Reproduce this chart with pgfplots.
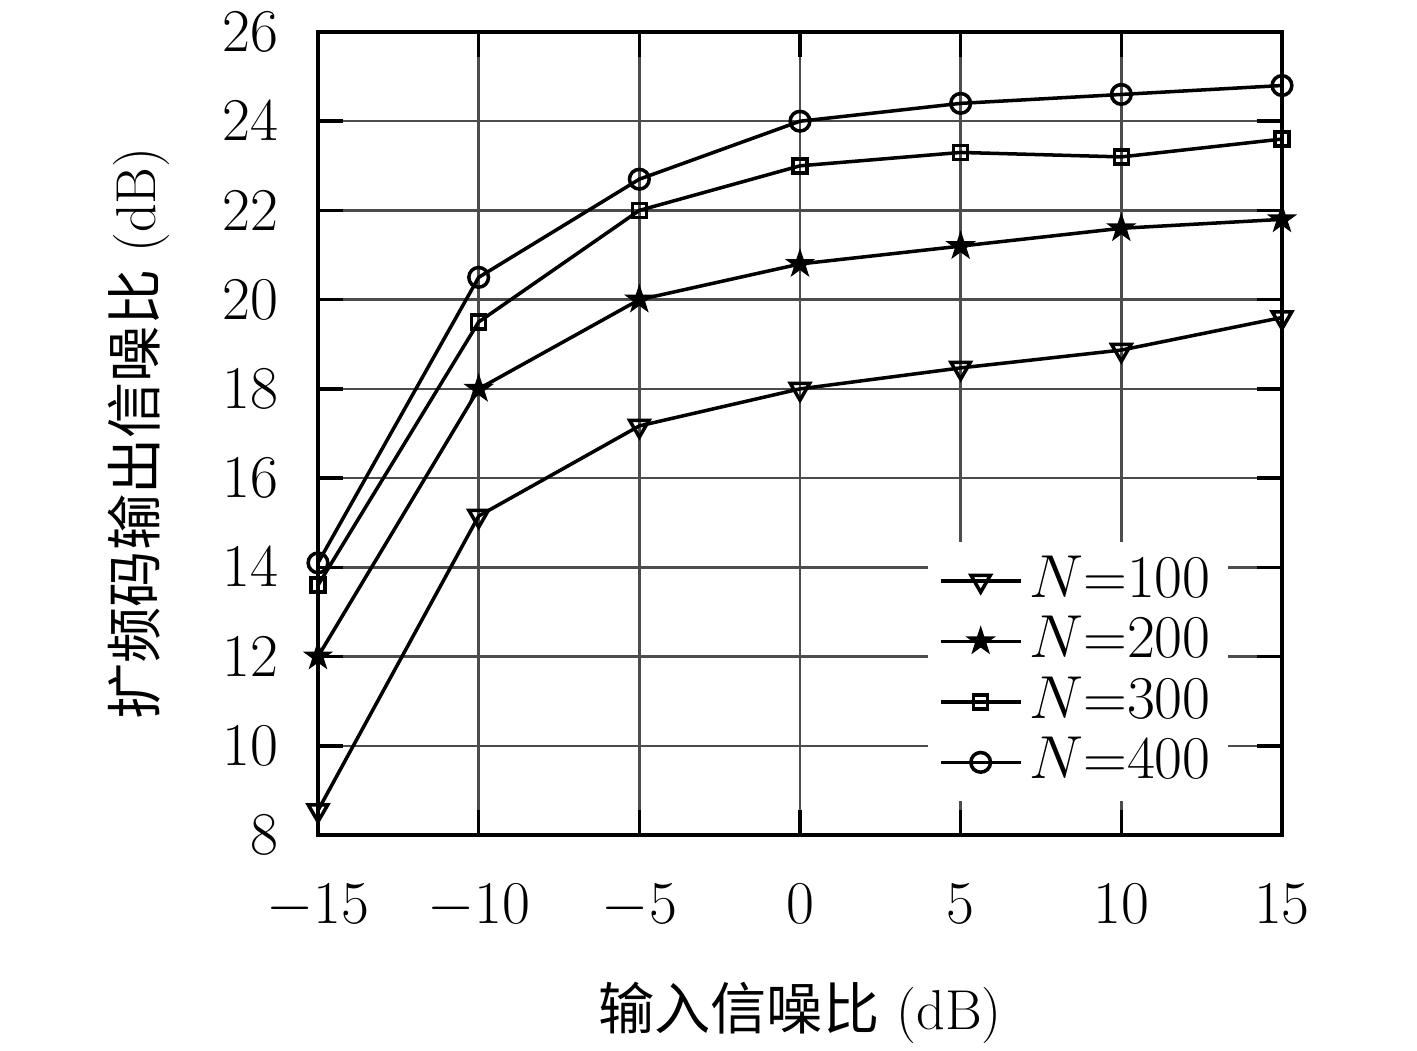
\documentclass[border=0pt]{standalone}
\usepackage{fontspec}
\usepackage{pgfplots}
\pgfplotsset{compat=1.18}
\newfontfamily\cjk{Noto Sans CJK SC}
% filled five-pointed star
\pgfdeclareplotmark{fstar}{%
  \pgfpathmoveto{\pgfqpointpolar{90}{1.3\pgfplotmarksize}}%
  \pgfpathlineto{\pgfqpointpolar{126}{0.5\pgfplotmarksize}}%
  \pgfpathlineto{\pgfqpointpolar{162}{1.3\pgfplotmarksize}}%
  \pgfpathlineto{\pgfqpointpolar{198}{0.5\pgfplotmarksize}}%
  \pgfpathlineto{\pgfqpointpolar{234}{1.3\pgfplotmarksize}}%
  \pgfpathlineto{\pgfqpointpolar{270}{0.5\pgfplotmarksize}}%
  \pgfpathlineto{\pgfqpointpolar{306}{1.3\pgfplotmarksize}}%
  \pgfpathlineto{\pgfqpointpolar{342}{0.5\pgfplotmarksize}}%
  \pgfpathlineto{\pgfqpointpolar{18}{1.3\pgfplotmarksize}}%
  \pgfpathlineto{\pgfqpointpolar{54}{0.5\pgfplotmarksize}}%
  \pgfpathclose
  \pgfusepathqfillstroke
}
\begin{document}
\fontsize{16}{19}\selectfont
\begin{tikzpicture}
\begin{axis}[
    scale only axis,
    width=9.64cm, height=8.03cm,
    xmin=-15, xmax=15, ymin=8, ymax=26,
    xtick={-15,-10,...,15}, ytick={8,10,...,26},
    grid=major,
    grid style={line width=0.7pt, black!70},
    axis line style={line width=1.2pt},
    tick style={line width=1pt, black},
    major tick length=2.5mm,
    tick align=inside,
    xticklabel style={yshift=-3mm},
    yticklabel style={xshift=-2mm},
    xlabel={{\cjk 输入信噪比} (dB)},
    ylabel={{\cjk 扩频码输出信噪比} (dB)},
    xlabel style={yshift=-1.5mm},
    ylabel style={yshift=1.5mm},
    legend style={at={(0.945,0.041)}, anchor=south east, draw=none, fill=white,
        row sep=-1pt, font=\fontsize{16}{19}\selectfont},
    legend cell align=left,
    legend image code/.code={%
        \draw[mark repeat=2,mark phase=2] plot coordinates {(0cm,0cm) (0.4cm,0cm) (0.8cm,0cm)};},
    every axis plot/.append style={line width=1pt, black},
]
\addplot[mark=triangle, mark options={rotate=180, fill=white, scale=1.6}] coordinates {
    (-15,8.55) (-10,15.15) (-5,17.17) (0,18.0) (5,18.47) (10,18.87) (15,19.6)
};
\addplot[mark=fstar, mark options={fill=black, scale=1.5, line width=0.4pt}] coordinates {
    (-15,12.0) (-10,18.0) (-5,20.0) (0,20.8) (5,21.2) (10,21.6) (15,21.8)
};
\addplot[mark=square, mark options={fill=white, scale=1.0}] coordinates {
    (-15,13.6) (-10,19.5) (-5,22.0) (0,23.0) (5,23.3) (10,23.2) (15,23.6)
};
\addplot[mark=o, mark options={fill=white, scale=1.4}] coordinates {
    (-15,14.1) (-10,20.5) (-5,22.7) (0,24.0) (5,24.4) (10,24.6) (15,24.8)
};
\legend{$N{=}100$, $N{=}200$, $N{=}300$, $N{=}400$}
\end{axis}
\pgfresetboundingbox
\useasboundingbox (-3.18cm,-2.16cm) rectangle (10.99cm,8.35cm);
\end{tikzpicture}
\end{document}
